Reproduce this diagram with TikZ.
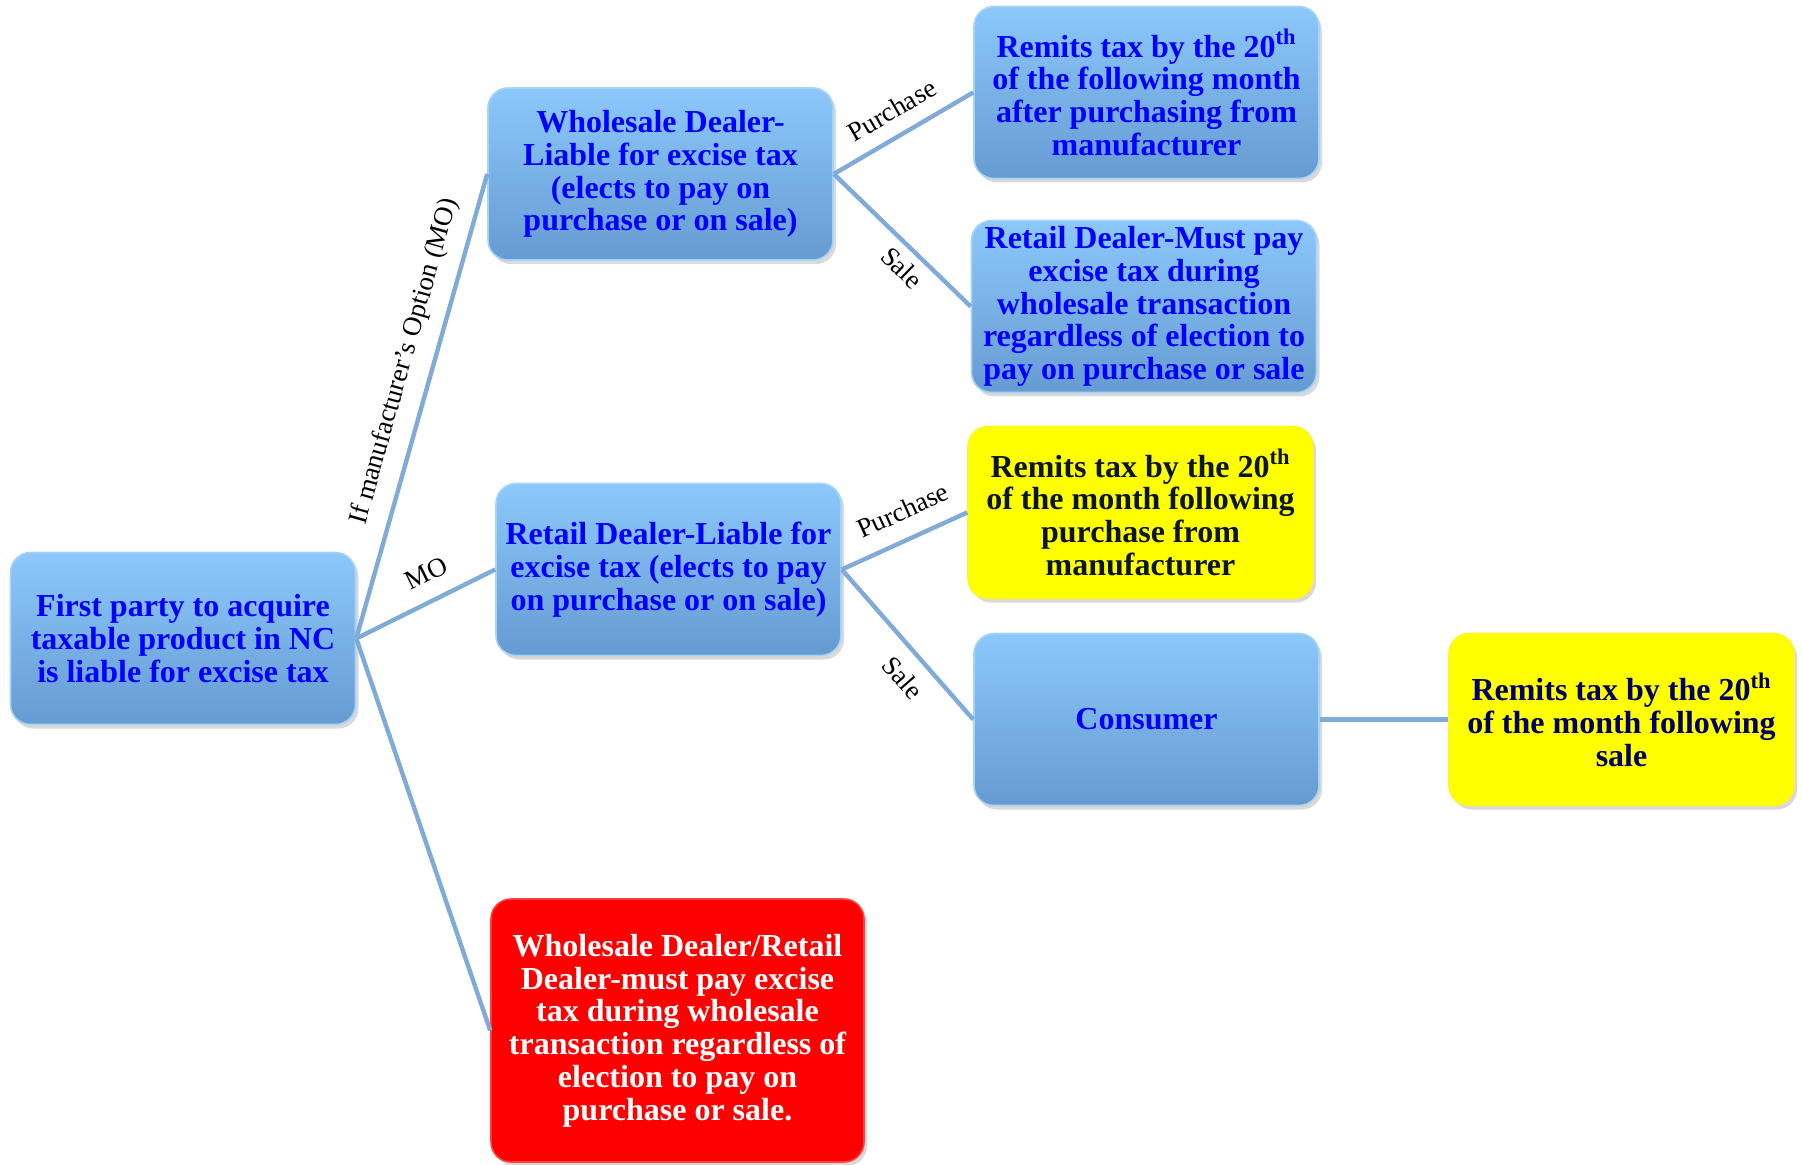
\documentclass[tikz,border=0pt]{standalone}
\usepackage{fontspec}
\setmainfont{Liberation Serif}
\usepackage{tikz}
\usetikzlibrary{shadows}
\definecolor{boxtop}{RGB}{140,200,252}
\definecolor{boxbot}{RGB}{102,155,210}
\definecolor{boxedge}{RGB}{165,212,246}
\definecolor{linkblue}{RGB}{128,170,215}
\definecolor{darktext}{RGB}{10,22,40}
\definecolor{navytext}{RGB}{0,0,100}
\tikzstyle{dealer} = [rectangle, rounded corners=10pt, minimum width=172.5pt, minimum height=86pt, inner sep=2pt, align=center, top color=boxtop, bottom color=boxbot, draw=boxedge, line width=0.8pt, text=blue, font=\fontsize{16}{16.4}\selectfont\bfseries, drop shadow={opacity=0.3, shadow xshift=1.5pt, shadow yshift=-2pt}]
\tikzstyle{remit} = [dealer, top color=yellow, bottom color=yellow, draw=yellow!85!white, text=darktext]
\tikzstyle{warn} = [dealer, top color=red, bottom color=red, draw=red!75!white, text=white, minimum width=186.5pt, minimum height=131.5pt]
\tikzstyle{link} = [draw=linkblue, line width=2.2pt]
\tikzstyle{tag} = [font=\fontsize{13.5}{14}\selectfont, text=black, inner sep=7pt, sloped]

\begin{document}
\begin{tikzpicture}[node distance=240pt]
    \useasboundingbox (0,0) rectangle (901pt,-582.5pt);

    % Nodes
    \node (firstparty) [dealer] at (91.5pt,-319.25pt) {First party to acquire\\taxable product in NC\\is liable for excise tax};
    \node (wholesale) [dealer, right of=firstparty, xshift=-1.25pt, yshift=232.25pt] {Wholesale Dealer-\\Liable for excise tax\\(elects to pay on\\purchase or on sale)};
    \node (retail) [dealer, right of=firstparty, xshift=2.75pt, yshift=34.5pt] {Retail Dealer-Liable for\\excise tax (elects to pay\\on purchase or on sale)};
    \node (mustpay) [warn, right of=firstparty, xshift=7.25pt, yshift=-196pt] {Wholesale Dealer/Retail\\Dealer-must pay excise\\tax during wholesale\\transaction regardless of\\election to pay on\\purchase or sale.};

    \node (remitwhole) [dealer, right of=wholesale, xshift=3pt, yshift=40.75pt] {Remits tax by the 20\textsuperscript{th}\\of the following month\\after purchasing from\\manufacturer};
    \node (retailmust) [dealer, right of=wholesale, xshift=1.75pt, yshift=-66.25pt] {Retail Dealer-Must pay\\excise tax during\\wholesale transaction\\regardless of election to\\pay on purchase or sale};
    \node (remitretail) [remit, right of=retail, xshift=-4pt, yshift=28.5pt] {Remits tax by the 20\textsuperscript{th}\\of the month following\\purchase from\\manufacturer};
    \node (consumer) [dealer, right of=retail, xshift=-1pt, yshift=-75pt] {Consumer};
    \node (remitsale) [remit, text=navytext, right of=consumer, xshift=-2.5pt] {Remits tax by the 20\textsuperscript{th}\\of the month following\\sale};

    % Lines
    \draw [link] (firstparty.east) -- node[tag, pos=0.58, above] {If manufacturer’s Option (MO)} (wholesale.west);
    \draw [link] (firstparty.east) -- node[tag, pos=0.59, above, inner sep=8pt] {MO} (retail.west);
    \draw [link] (firstparty.east) -- (mustpay.west);
    \draw [link] (wholesale.east) -- node[tag, pos=0.51, above] {Purchase} (remitwhole.west);
    \draw [link] (wholesale.east) -- node[tag, pos=0.6, below, inner sep=4pt] {Sale} (retailmust.west);
    \draw [link] (retail.east) -- node[tag, pos=0.58, above, inner sep=8.5pt] {Purchase} (remitretail.west);
    \draw [link] (retail.east) -- node[tag, pos=0.61, below] {Sale} (consumer.west);
    \draw [link] (consumer.east) -- (remitsale.west);

\end{tikzpicture}
\end{document}
